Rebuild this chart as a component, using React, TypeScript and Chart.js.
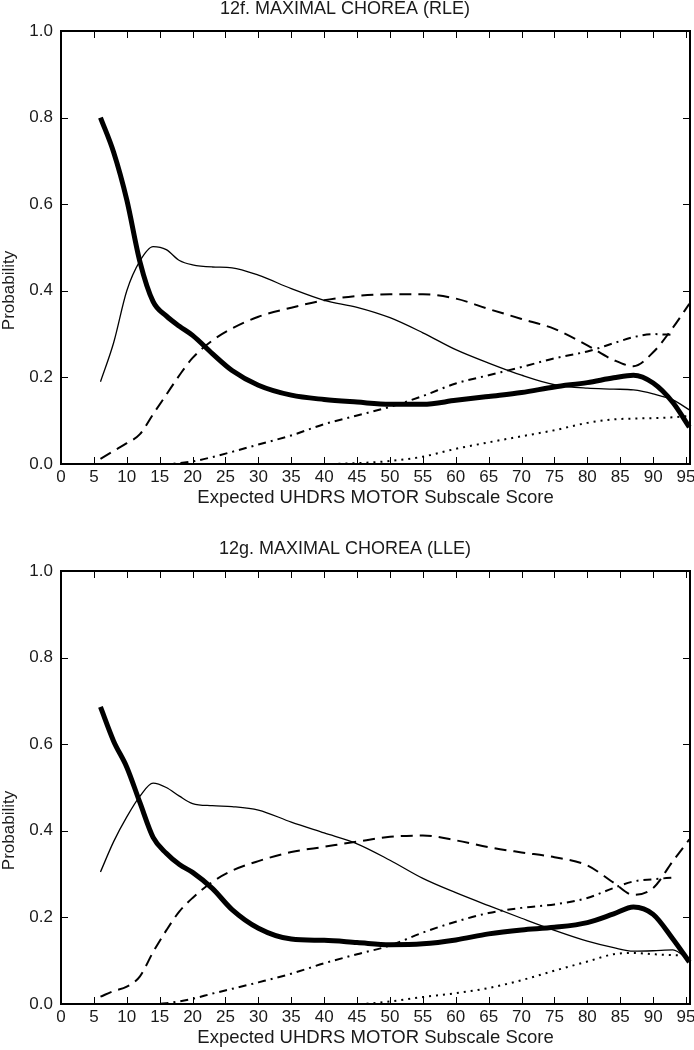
import React, { useEffect, useRef } from "react";
import { Chart, registerables } from "chart.js";

Chart.register(...registerables);

// Shared x positions (Expected UHDRS MOTOR Subscale Score)
const xValues = [6, 8, 10, 12, 14, 16, 18, 20, 23, 26, 30, 35, 40, 45, 50, 55, 60, 65, 70, 75, 80, 84, 87, 90, 93, 95.5];

// Axis ticks
const xTickValues = [0, 5, 10, 15, 20, 25, 30, 35, 40, 45, 50, 55, 60, 65, 70, 75, 80, 85, 90, 95];
const yTickValues = [0, 0.2, 0.4, 0.6, 0.8, 1.0];

// 12f. MAXIMAL CHOREA (RLE)
const rleThick = [0.80, 0.72, 0.61, 0.467, 0.375, 0.342, 0.318, 0.297, 0.255, 0.216, 0.182, 0.159, 0.149, 0.143, 0.138, 0.138, 0.147, 0.156, 0.165, 0.178, 0.188, 0.199, 0.205, 0.187, 0.142, 0.085];
const rleThin = [0.19, 0.28, 0.40, 0.469, 0.502, 0.495, 0.47, 0.46, 0.455, 0.453, 0.436, 0.405, 0.378, 0.362, 0.338, 0.303, 0.264, 0.233, 0.205, 0.183, 0.175, 0.173, 0.171, 0.162, 0.148, 0.125];
const rleDashed = [0.012, 0.03, 0.048, 0.069, 0.115, 0.16, 0.205, 0.245, 0.285, 0.313, 0.34, 0.361, 0.378, 0.388, 0.392, 0.392, 0.382, 0.358, 0.335, 0.312, 0.274, 0.24, 0.226, 0.258, 0.315, 0.37];
const rleDashDot = [0, 0, 0, 0, 0, 0, 0.002, 0.006, 0.016, 0.028, 0.045, 0.066, 0.092, 0.112, 0.132, 0.157, 0.186, 0.205, 0.224, 0.244, 0.26, 0.279, 0.293, 0.3, 0.298, null];
const rleDotted = [0, 0, 0, 0, 0, 0, 0, 0, 0, 0, 0, 0, 0, 0.002, 0.007, 0.017, 0.035, 0.05, 0.064, 0.078, 0.095, 0.103, 0.105, 0.106, 0.108, 0.111];

// 12g. MAXIMAL CHOREA (LLE)
const lleThick = [0.686, 0.607, 0.547, 0.465, 0.385, 0.348, 0.322, 0.304, 0.267, 0.218, 0.175, 0.15, 0.147, 0.142, 0.137, 0.139, 0.148, 0.162, 0.171, 0.177, 0.188, 0.208, 0.224, 0.207, 0.15, 0.097];
const lleThin = [0.305, 0.375, 0.432, 0.48, 0.51, 0.5, 0.48, 0.463, 0.458, 0.456, 0.448, 0.42, 0.395, 0.37, 0.332, 0.29, 0.257, 0.227, 0.198, 0.17, 0.145, 0.13, 0.122, 0.123, 0.125, 0.1];
const lleDashed = [0.017, 0.03, 0.04, 0.064, 0.12, 0.17, 0.214, 0.245, 0.282, 0.308, 0.33, 0.351, 0.363, 0.375, 0.386, 0.389, 0.378, 0.362, 0.35, 0.339, 0.32, 0.28, 0.252, 0.268, 0.33, 0.38];
const lleDashDot = [0, 0, 0, 0, 0, 0.002, 0.006, 0.012, 0.024, 0.035, 0.05, 0.07, 0.094, 0.115, 0.135, 0.165, 0.19, 0.21, 0.222, 0.23, 0.245, 0.268, 0.283, 0.288, 0.292, null];
const lleDotted = [0, 0, 0, 0, 0, 0, 0, 0, 0, 0, 0, 0, 0, 0, 0.006, 0.016, 0.025, 0.037, 0.055, 0.077, 0.098, 0.115, 0.118, 0.115, 0.113, 0.112];

const FONT = "'Liberation Sans', Arial, Helvetica, sans-serif";
const TEXT = "#1a1a1a";
const W = 694;
const H = 510;
const PLOT_TOP = 31;
const PLOT_BOTTOM = 464;
const Y_TITLE = "Probability";

const frameTicks = {
  id: "frameTicks",
  afterDatasetsDraw(chart: any) {
    const { ctx, chartArea: a, scales } = chart;
    const xs = scales.x;
    const ys = scales.y;
    ctx.save();
    ctx.strokeStyle = "#000";
    ctx.lineWidth = 1;
    ctx.beginPath();
    xs.ticks.forEach((t: any) => {
      const px = Math.round(xs.getPixelForValue(t.value)) + 0.5;
      ctx.moveTo(px, a.bottom);
      ctx.lineTo(px, a.bottom - 7);
      ctx.moveTo(px, a.top);
      ctx.lineTo(px, a.top + 7);
    });
    ys.ticks.forEach((t: any) => {
      const py = Math.round(ys.getPixelForValue(t.value)) + 0.5;
      ctx.moveTo(a.left, py);
      ctx.lineTo(a.left + 7, py);
      ctx.moveTo(a.right, py);
      ctx.lineTo(a.right - 7, py);
    });
    ctx.stroke();
    ctx.lineWidth = 2;
    ctx.strokeRect(a.left, a.top, a.right - a.left, a.bottom - a.top);
    // y-axis title (sits a little below the plot's centre, as in the source figure)
    ctx.fillStyle = TEXT;
    ctx.font = `normal 17px ${FONT}`;
    ctx.textAlign = "center";
    ctx.textBaseline = "middle";
    ctx.translate(9, (a.top + a.bottom) / 2 + 43);
    ctx.rotate(-Math.PI / 2);
    ctx.fillText(Y_TITLE, 0, 0);
    ctx.restore();
  },
};

function makeDataset(values: (number | null)[], width: number, dash: number[]) {
  return {
    data: xValues.map((x, i) => ({ x, y: values[i] })),
    borderColor: "#000",
    backgroundColor: "#000",
    borderWidth: width,
    borderDash: dash,
    pointRadius: 0,
    fill: false,
    tension: 0.4,
    cubicInterpolationMode: "monotone" as const,
    spanGaps: false,
    clip: 3,
  };
}

function ChartPanel(props: {
  title: string;
  top: number;
  thick: (number | null)[];
  thin: (number | null)[];
  dashed: (number | null)[];
  dashDot: (number | null)[];
  dotted: (number | null)[];
}) {
  const ref = useRef<HTMLCanvasElement>(null);
  useEffect(() => {
    if (!ref.current) return;
    const chart = new Chart(ref.current, {
      type: "line",
      data: {
        datasets: [
          makeDataset(props.dotted, 2, [2, 5]),
          makeDataset(props.dashDot, 2, [8, 5, 2, 5]),
          makeDataset(props.dashed, 2, [12, 7]),
          makeDataset(props.thin, 1.3, []),
          makeDataset(props.thick, 5, []),
        ] as any,
      },
      options: {
        animation: false,
        responsive: false,
        events: [],
        layout: { padding: { left: 0, right: 4, top: 0, bottom: 0 } },
        plugins: {
          legend: { display: false },
          tooltip: { enabled: false },
          title: {
            display: true,
            text: props.title,
            color: TEXT,
            font: { family: FONT, size: 18, weight: "normal", lineHeight: 1 },
            padding: { top: 0, bottom: PLOT_TOP - 18 },
          },
        },
        scales: {
          x: {
            type: "linear",
            min: 0,
            max: 95.6,
            grid: { display: false, drawTicks: false },
            border: { display: false },
            afterBuildTicks: (scale: any) => {
              scale.ticks = xTickValues.map((v) => ({ value: v }));
            },
            afterFit: (scale: any) => {
              scale.height = H - PLOT_BOTTOM;
              scale.paddingLeft = 0;
              scale.paddingRight = 0;
            },
            ticks: {
              color: TEXT,
              padding: 4.5,
              maxRotation: 0,
              autoSkip: false,
              font: { family: FONT, size: 17, lineHeight: 1 },
              callback: (v: any) => String(v),
            },
            title: {
              display: true,
              text: "Expected UHDRS MOTOR Subscale Score",
              color: TEXT,
              font: { family: FONT, size: 18.5, lineHeight: 1 },
              padding: { top: 0, bottom: 3 },
            },
          },
          y: {
            type: "linear",
            min: 0,
            max: 1,
            grid: { display: false, drawTicks: false },
            border: { display: false },
            afterBuildTicks: (scale: any) => {
              scale.ticks = yTickValues.map((v) => ({ value: v }));
            },
            afterFit: (scale: any) => {
              scale.width = 61;
              scale.paddingTop = 0;
              scale.paddingBottom = 0;
            },
            ticks: {
              color: TEXT,
              padding: 8,
              font: { family: FONT, size: 17, lineHeight: 1 },
              callback: (v: any) => Number(v).toFixed(1),
            },
            title: { display: false },
          },
        },
      } as any,
      plugins: [frameTicks],
    });
    return () => chart.destroy();
  }, []);
  return (
    <canvas
      ref={ref}
      width={W}
      height={H}
      style={{ position: "absolute", left: 0, top: props.top, width: W, height: H }}
    />
  );
}

export default function App() {
  useEffect(() => {
    document.body.style.margin = "0";
    document.body.style.background = "#fff";
  }, []);
  return (
    <div style={{ position: "relative", width: W, height: 1050, background: "#fff" }}>
      <ChartPanel
        title="12f. MAXIMAL CHOREA (RLE)"
        top={0}
        thick={rleThick}
        thin={rleThin}
        dashed={rleDashed}
        dashDot={rleDashDot}
        dotted={rleDotted}
      />
      <ChartPanel
        title="12g. MAXIMAL CHOREA (LLE)"
        top={540}
        thick={lleThick}
        thin={lleThin}
        dashed={lleDashed}
        dashDot={lleDashDot}
        dotted={lleDotted}
      />
    </div>
  );
}
